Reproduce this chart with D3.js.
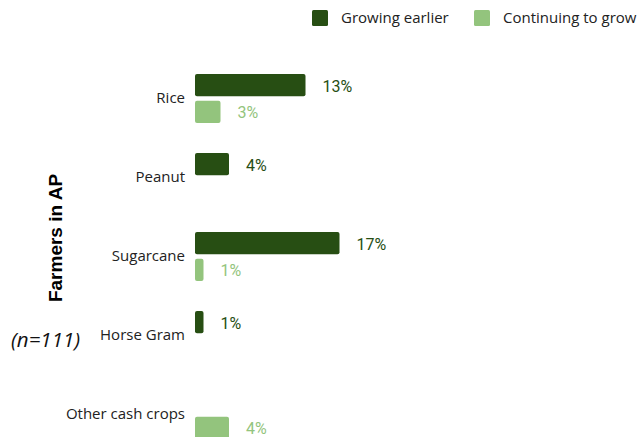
<!DOCTYPE html>
<html>
<head>
<meta charset="utf-8">
<script src="https://cdn.jsdelivr.net/npm/d3@7/dist/d3.min.js"></script>
<style>
  html, body { margin: 0; padding: 0; background: #fff; }
  svg { display: block; }
</style>
</head>
<body>
<div id="chart"></div>
<script>
// Crops grown by farmers in AP, share of respondents (%)
const categories = ["Rice", "Peanut", "Sugarcane", "Horse Gram", "Other cash crops"];
const seriesNames = ["Growing earlier", "Continuing to grow"];
const growingEarlier = [13, 4, 17, 1, null];
const continuingToGrow = [3, null, 1, null, 4];
const seriesColors = ["#274e13", "#93c47d"];
const axisTitle = "Farmers in AP";
const sampleNote = "(n=111)";

const W = 640, H = 437;
const svg = d3.select("#chart").append("svg")
  .attr("width", W).attr("height", H);

const seriesValues = [growingEarlier, continuingToGrow];

const x = d3.scaleLinear().domain([0, 20]).range([195, 365]);
const y = d3.scaleBand().domain(categories).range([59, 454]).padding(0);
const inner = d3.scaleBand().domain(seriesNames)
  .range([-24.5, 24.5]).paddingInner(0.16).paddingOuter(0);

// Category labels
const yAxis = d3.axisLeft(y).tickSize(0).tickPadding(10);
const gy = svg.append("g").attr("transform", `translate(${x(0)},0)`).call(yAxis);
gy.select(".domain").remove();
gy.selectAll("text")
  .attr("font-family", "'Open Sans', sans-serif")
  .attr("font-size", 15)
  .attr("fill", "#222");

// Bars and value labels
const rows = categories.flatMap((c, i) =>
  seriesNames.map((s, j) => ({ cat: c, series: s, idx: j, value: seriesValues[j][i] }))
).filter(d => d.value != null);

svg.append("g").selectAll("rect").data(rows).join("rect")
  .attr("x", x(0))
  .attr("y", d => y(d.cat) + y.bandwidth() / 2 + inner(d.series))
  .attr("width", d => x(d.value) - x(0))
  .attr("height", inner.bandwidth())
  .attr("rx", 2).attr("ry", 2)
  .attr("fill", d => seriesColors[d.idx]);

svg.append("g").selectAll("text").data(rows).join("text")
  .attr("x", d => x(d.value) + 17)
  .attr("y", d => y(d.cat) + y.bandwidth() / 2 + inner(d.series) + inner.bandwidth() / 2 + 1)
  .attr("dy", "0.35em")
  .attr("font-family", "Roboto, sans-serif")
  .attr("font-size", 16)
  .attr("fill", d => seriesColors[d.idx])
  .text(d => d.value + "%");

// Axis title and sample size
svg.append("text")
  .attr("transform", "translate(62,238) rotate(-90)")
  .attr("text-anchor", "middle")
  .attr("font-family", "'Liberation Sans', Arial, sans-serif")
  .attr("font-weight", "bold")
  .attr("font-size", 19)
  .attr("fill", "#000")
  .text(axisTitle);

svg.append("text")
  .attr("x", 11).attr("y", 340)
  .attr("dy", "0.35em")
  .attr("font-family", "'Open Sans', sans-serif")
  .attr("font-style", "italic")
  .attr("font-size", 20.5)
  .attr("fill", "#111")
  .text(sampleNote);

// Legend
const legendX = [312, 474];
const legend = svg.append("g").selectAll("g").data(seriesNames).join("g")
  .attr("transform", (d, i) => `translate(${legendX[i]},10)`);
legend.append("rect")
  .attr("width", 16).attr("height", 16).attr("rx", 1.5)
  .attr("fill", (d, i) => seriesColors[i]);
legend.append("text")
  .attr("x", 29).attr("y", 8).attr("dy", "0.35em")
  .attr("font-family", "'Open Sans', sans-serif")
  .attr("font-size", 15)
  .attr("fill", "#222")
  .text(d => d);
</script>
</body>
</html>
